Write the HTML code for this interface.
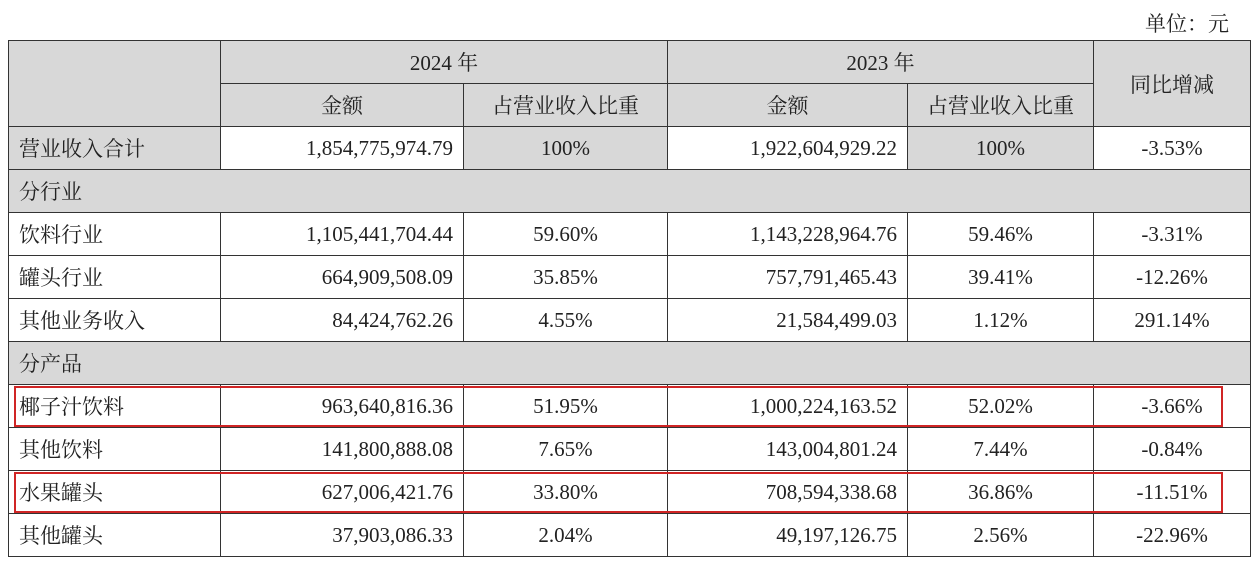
<!DOCTYPE html>
<html><head><meta charset="utf-8"><style>
body{margin:0;background:#fff;width:1259px;height:565px;overflow:hidden;position:relative;font-family:"Liberation Serif","Noto Serif CJK SC",serif;color:#222}
.unit{position:absolute;right:30px;top:8px;font-size:21px}
table{position:absolute;left:8px;top:40px;border-collapse:collapse;table-layout:fixed;font-size:21px}
td{border:1.5px solid #333;height:42px;padding:0 10px;white-space:nowrap}
.g{background:#d8d8d8}
.c{text-align:center}.r{text-align:right}
.box{position:absolute;border:2.5px solid #d02525;left:14px;width:1205px;height:37px}
</style></head><body>
<div class="unit">单位：元</div>
<table>
<colgroup><col style="width:212px"><col style="width:243px"><col style="width:204px"><col style="width:240px"><col style="width:186px"><col style="width:157px"></colgroup>
<tr><td class="g" rowspan="2"></td><td class="g c" colspan="2">2024 年</td><td class="g c" colspan="2">2023 年</td><td class="g c" rowspan="2">同比增减</td></tr>
<tr><td class="g c">金额</td><td class="g c">占营业收入比重</td><td class="g c">金额</td><td class="g c">占营业收入比重</td></tr>
<tr><td class="g">营业收入合计</td><td class="r">1,854,775,974.79</td><td class="g c">100%</td><td class="r">1,922,604,929.22</td><td class="g c">100%</td><td class="c">-3.53%</td></tr>
<tr><td class="g" colspan="6">分行业</td></tr>
<tr><td>饮料行业</td><td class="r">1,105,441,704.44</td><td class="c">59.60%</td><td class="r">1,143,228,964.76</td><td class="c">59.46%</td><td class="c">-3.31%</td></tr>
<tr><td>罐头行业</td><td class="r">664,909,508.09</td><td class="c">35.85%</td><td class="r">757,791,465.43</td><td class="c">39.41%</td><td class="c">-12.26%</td></tr>
<tr><td>其他业务收入</td><td class="r">84,424,762.26</td><td class="c">4.55%</td><td class="r">21,584,499.03</td><td class="c">1.12%</td><td class="c">291.14%</td></tr>
<tr><td class="g" colspan="6">分产品</td></tr>
<tr><td>椰子汁饮料</td><td class="r">963,640,816.36</td><td class="c">51.95%</td><td class="r">1,000,224,163.52</td><td class="c">52.02%</td><td class="c">-3.66%</td></tr>
<tr><td>其他饮料</td><td class="r">141,800,888.08</td><td class="c">7.65%</td><td class="r">143,004,801.24</td><td class="c">7.44%</td><td class="c">-0.84%</td></tr>
<tr><td>水果罐头</td><td class="r">627,006,421.76</td><td class="c">33.80%</td><td class="r">708,594,338.68</td><td class="c">36.86%</td><td class="c">-11.51%</td></tr>
<tr><td>其他罐头</td><td class="r">37,903,086.33</td><td class="c">2.04%</td><td class="r">49,197,126.75</td><td class="c">2.56%</td><td class="c">-22.96%</td></tr>
</table>
<div class="box" style="top:386px"></div>
<div class="box" style="top:472px"></div>
</body></html>
